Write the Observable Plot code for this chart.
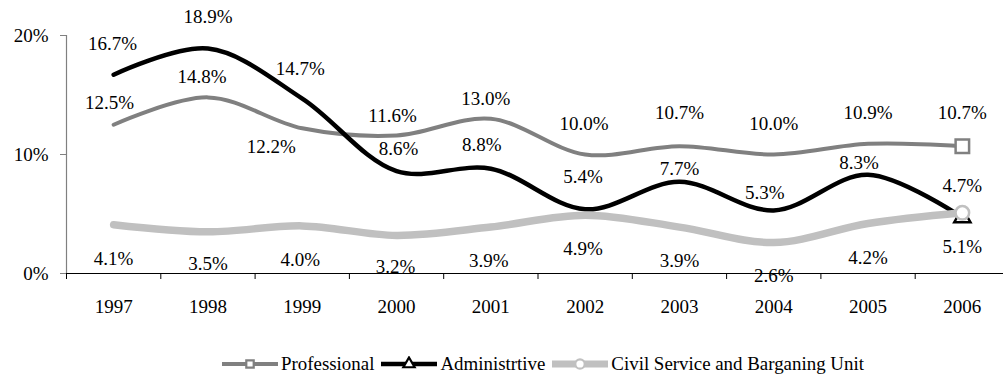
<!DOCTYPE html>
<html>
<head>
<meta charset="utf-8">
<script src="https://cdn.jsdelivr.net/npm/d3@7"></script>
<script src="https://cdn.jsdelivr.net/npm/@observablehq/plot@0.6"></script>
<style>
  html, body { margin: 0; padding: 0; background: #fff; }
  #chart svg { display: block; }
  #legend { height: 27px; display: flex; align-items: center; padding-left: 222px;
    font-family: "Liberation Serif", "Times New Roman", serif; font-size: 18.9px; color: #000; }
  #legend .item { display: flex; align-items: center; margin-right: 7px; }
  #legend svg { display: block; margin-right: 3px; }
</style>
</head>
<body>
<div id="chart"></div>
<div id="legend"></div>
<script>
// ---- data ----
const years = [1997, 1998, 1999, 2000, 2001, 2002, 2003, 2004, 2005, 2006];
const professional   = [12.5, 14.8, 12.2, 11.6, 13.0, 10.0, 10.7, 10.0, 10.9, 10.7];
const administrative = [16.7, 18.9, 14.7, 8.6, 8.8, 5.4, 7.7, 5.3, 8.3, 4.7];
const civilService   = [4.1, 3.5, 4.0, 3.2, 3.9, 4.9, 3.9, 2.6, 4.2, 5.1];
const seriesNames = ["Professional", "Administrtive", "Civil Service and Barganing Unit"];
const yTicks = [0, 10, 20];

// ---- label placement (pixel offsets, kept apart from the data) ----
const profLabelDy  = [-22, -20, 19, -20, -20, -31, -33, -31, -31, -33];
const profLabelDx  = [-4, -6, -31, -4, -5, -1, 0, 0, 0, 0];
const adminLabelDy = [-31, -32, -30, -22, -24, -32, -13, -18, -12, -32];
const adminLabelDx = [-1, 0, -2, 2, -9, -2, 0, -9, -9, 0];
const civilLabelDy = [34, 32, 34, 31, 34, 34, 34, 33, 34, 34];
const civilLabelDx = [0, 0, -2, -1, -2, -2, 0, 0, 0, 0];

const styles = [
  {name: seriesNames[0], values: professional,   dy: profLabelDy,  dx: profLabelDx,  color: "#808080", width: 4,   symbol: "square",   r: 7.6},
  {name: seriesNames[1], values: administrative, dy: adminLabelDy, dx: adminLabelDx, color: "#000000", width: 4.5, symbol: "triangle", r: 6},
  {name: seriesNames[2], values: civilService,   dy: civilLabelDy, dx: civilLabelDx, color: "#c0c0c0", width: 7.5, symbol: "circle",   r: 6.8}
];

const font = "'Liberation Serif', 'Times New Roman', serif";
const marks = [];

// axes
marks.push(Plot.ruleX([years[0] - 0.5], {stroke: "#808080", strokeWidth: 1.2}));
marks.push(Plot.axisY({ticks: yTicks, tickFormat: d => d + "%", tickSize: 6, tickPadding: 12, stroke: "#808080", fontSize: 19, fill: "#000", label: null}));
marks.push(Plot.ruleY([0], {stroke: "#000", strokeWidth: 1.2}));
marks.push(Plot.axisX({ticks: years.map(y => y - 0.5), tickSize: 6, tickFormat: () => "", stroke: "#000", label: null}));
marks.push(Plot.axisX({ticks: years, tickSize: 0, tickPadding: 26, tickFormat: d => String(d), fontSize: 19, fill: "#000", label: null}));

// lines + end markers
for (const s of styles) {
  const rows = years.map((year, i) => ({year, value: s.values[i]}));
  marks.push(Plot.line(rows, {x: "year", y: "value", stroke: s.color, strokeWidth: s.width, curve: "catmull-rom", strokeLinejoin: "round", strokeLinecap: "round"}));
  marks.push(Plot.dot(rows.slice(-1), {x: "year", y: "value", symbol: s.symbol, r: s.r, fill: "#fff", stroke: s.color, strokeWidth: 2.5}));
}

// value labels, grouped by offset
for (const s of styles) {
  const rows = years.map((year, i) => ({year, value: s.values[i], dx: s.dx[i], dy: s.dy[i]}));
  const groups = d3.groups(rows, d => d.dx + "," + d.dy);
  for (const [, g] of groups) {
    marks.push(Plot.text(g, {x: "year", y: "value", text: d => d.value.toFixed(1) + "%", dx: g[0].dx, dy: g[0].dy, fontSize: 19, fill: "#000"}));
  }
}

const chart = Plot.plot({
  width: 1003,
  height: 350,
  marginLeft: 66,
  marginRight: 0,
  marginTop: 35,
  marginBottom: 77,
  x: {type: "linear", domain: [years[0] - 0.5, years[years.length - 1] + 0.5], range: [66, 1009], label: null},
  y: {domain: [yTicks[0], yTicks[yTicks.length - 1]], label: null},
  style: {fontFamily: font, fontSize: "19px", background: "#fff", color: "#000", overflow: "visible"},
  marks
});
document.getElementById("chart").appendChild(chart);

// legend
const legend = d3.select("#legend");
for (const s of styles) {
  const item = legend.append("div").attr("class", "item");
  const svg = item.append("svg").attr("width", 56).attr("height", 16);
  svg.append("line").attr("x1", 0).attr("x2", 56).attr("y1", 8).attr("y2", 8)
    .attr("stroke", s.color).attr("stroke-width", Math.min(s.width, 7)).attr("stroke-linecap", "round");
  svg.append("path").attr("transform", "translate(28,8)")
    .attr("d", d3.symbol(s.symbol === "square" ? d3.symbolSquare : s.symbol === "triangle" ? d3.symbolTriangle : d3.symbolCircle, s.symbol === "circle" ? 70 : 55)())
    .attr("fill", "#fff").attr("stroke", s.color).attr("stroke-width", 2.2);
  item.append("span").text(s.name);
}
</script>
</body>
</html>
